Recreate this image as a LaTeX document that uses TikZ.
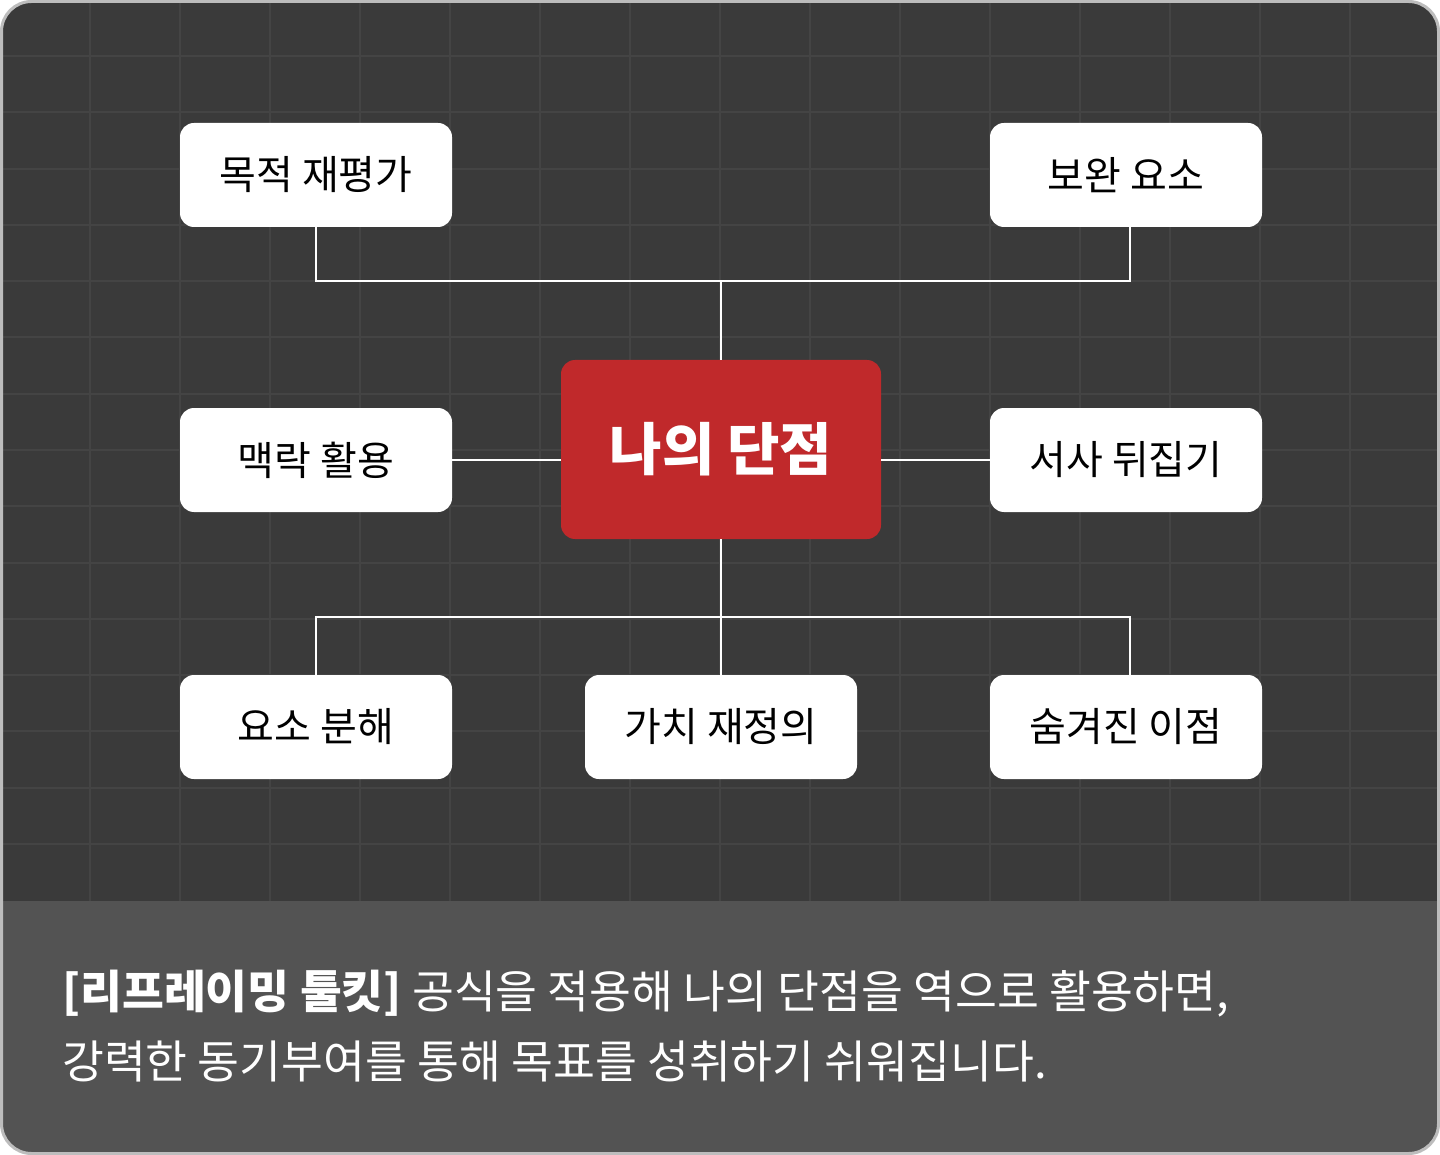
\documentclass[tikz,border=0pt]{standalone}
\usepackage{fontspec}
\newfontfamily\kr{Noto Sans CJK KR}
\definecolor{bgdark}{HTML}{3A3A3A}
\definecolor{gridc}{HTML}{444444}
\definecolor{capbg}{HTML}{535353}
\definecolor{framec}{HTML}{BDBDBD}
\definecolor{redc}{HTML}{C0292B}
\tikzset{
  leafbox/.style={fill=white, rounded corners=14pt, minimum width=272pt, minimum height=104pt, inner sep=0pt, font=\kr\fontsize{40}{44}\selectfont, text=black},
  corebox/.style={fill=redc, rounded corners=14pt, minimum width=320pt, minimum height=179pt, inner sep=0pt, font=\kr\bfseries\fontsize{57}{64}\selectfont, text=white},
  link/.style={draw=white, line width=2.5pt},
  captext/.style={anchor=base west, inner sep=0pt, text=white, font=\kr\fontsize{45.5}{52}\selectfont}
}
\begin{document}
\begin{tikzpicture}[x=1pt,y=-1pt]
\useasboundingbox (0,0) rectangle (1440,1155);
\fill[white] (0,0) rectangle (1440,1155);
\begin{scope}
  \clip[rounded corners=30pt] (1.5,1.5) rectangle (1438.5,1153.5);
  \fill[bgdark] (0,0) rectangle (1440,901);
  \foreach \i in {1,...,15} {
    \draw[gridc, line width=2pt] (90*\i,0) -- (90*\i,901);
  }
  \foreach \j in {1,...,15} {
    \draw[gridc, line width=2pt] (0,56.25*\j) -- (1440,56.25*\j);
  }
  \fill[capbg] (0,901) rectangle (1440,1155);
\end{scope}
\draw[framec, line width=3pt, rounded corners=30pt] (1.5,1.5) rectangle (1438.5,1153.5);

% nodes
\node[leafbox] (tl) at (316,175) {목적 재평가};
\node[leafbox] (tr) at (1126,175) {보완 요소};
\node[leafbox] (ml) at (316,460) {맥락 활용};
\node[leafbox] (mr) at (1126,460) {서사 뒤집기};
\node[corebox] (core) at (721,449.5) {나의 단점};
\node[leafbox] (bl) at (316,727) {요소 분해};
\node[leafbox] (bc) at (721,727) {가치 재정의};
\node[leafbox] (br) at (1126,727) {숨겨진 이점};

\coordinate (jt) at (721,281);
\coordinate (jb) at (721,617);

% connectors
\draw[link] (tl.south) |- (jt) -| ([xshift=4pt]tr.south);
\draw[link] (jt) -- (core.north);
\draw[link] (ml.east) -- (ml.east -| core.west);
\draw[link] (mr.west) -- (mr.west -| core.east);
\draw[link] (core.south) -- (bc.north);
\draw[link] (bl.north) |- (jb) -| ([xshift=4pt]br.north);

% caption
\node[captext] (cap1) at (62,1008) {{\bfseries [리프레이밍 툴킷]} 공식을 적용해 나의 단점을 역으로 활용하면,};
\node[captext] (cap2) at (62,1078) {강력한 동기부여를 통해 목표를 성취하기 쉬워집니다.};
\end{tikzpicture}
\end{document}
